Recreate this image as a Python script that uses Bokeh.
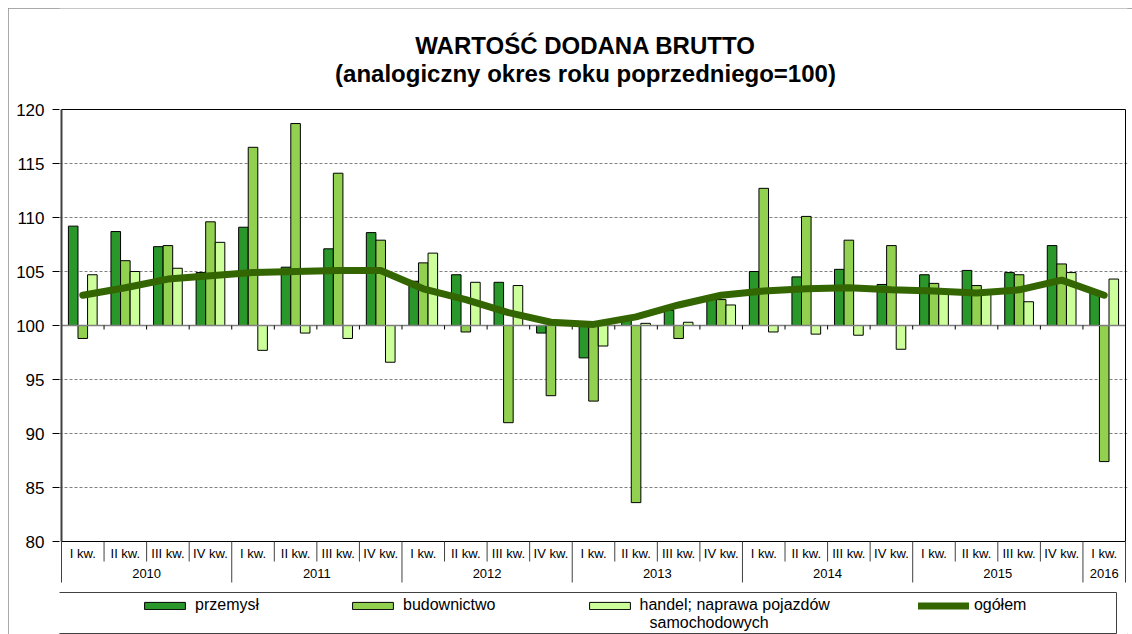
from bokeh.plotting import figure
from bokeh.models import Range1d, FixedTicker, Legend, LegendItem, ColumnDataSource
from bokeh.core.properties import value
from bokeh.embed import file_html
from bokeh.resources import INLINE

# ---------------- data ----------------
quarters = ["I kw.", "II kw.", "III kw.", "IV kw."] * 6 + ["I kw."]
years = ["2010", "2011", "2012", "2013", "2014", "2015", "2016"]
quarters_per_year = [4, 4, 4, 4, 4, 4, 1]

przemysl = [109.2, 108.7, 107.3, 104.9, 109.1, 105.4, 107.1, 108.6,
            104.1, 104.7, 104.0, 99.3, 97.0, 100.8, 101.4, 102.5,
            105.0, 104.5, 105.2, 103.8, 104.7, 105.1, 104.9, 107.4, 103.0]
budownictwo = [98.8, 106.0, 107.4, 109.6, 116.5, 118.7, 114.1, 107.9,
               105.8, 99.4, 91.0, 93.5, 93.0, 83.6, 98.8, 102.4,
               112.7, 110.1, 107.9, 107.4, 103.9, 103.7, 104.7, 105.7, 87.4]
handel = [104.7, 105.0, 105.3, 107.7, 97.7, 99.3, 98.8, 96.6,
          106.7, 104.0, 103.7, 100.1, 98.1, 100.2, 100.3, 101.9,
          99.4, 99.2, 99.1, 97.8, 103.2, 103.1, 102.2, 104.9, 104.3]
ogolem = [102.8, 103.5, 104.3, 104.6, 104.9, 105.0, 105.1, 105.1,
          103.4, 102.4, 101.2, 100.3, 100.1, 100.8, 101.9, 102.8,
          103.2, 103.4, 103.5, 103.3, 103.2, 103.0, 103.3, 104.2, 102.8]

series_names = ["przemysł", "budownictwo", "handel; naprawa pojazdów", "ogółem"]
series_name_line2 = "samochodowych"
title_lines = ["WARTOŚĆ DODANA BRUTTO", "(analogiczny okres roku poprzedniego=100)"]

y_ticks = [80, 85, 90, 95, 100, 105, 110, 115, 120]
grid_ticks = [85, 90, 95, 105, 110, 115]
base = 100
y_min, y_max = 80, 120

# ---------------- layout ----------------
FONT = "Liberation Sans"
n = len(quarters)
PX_X = 42.56   # px per category
PX_Y = 10.8    # px per unit
W, H = 1124, 626
x0 = -0.5 - 2 / PX_X
x1 = n - 0.5 + 2 / PX_X
y1 = y_max + 101 / PX_Y          # frame reaches the top of the canvas
y0 = y1 - H / PX_Y

p = figure(width=W, height=H, x_range=Range1d(x0, x1), y_range=Range1d(y0, y1),
           x_axis_type=None, output_backend="svg", toolbar_location=None,
           min_border_left=51, min_border_right=5, min_border_top=0,
           min_border_bottom=0, margin=(8, 0, 0, 8))
p.outline_line_color = None
p.styles = {"outline": "1px solid #8c8c8c", "outline-offset": "-1px"}

# y axis
p.yaxis.ticker = FixedTicker(ticks=y_ticks)
p.yaxis.axis_line_color = None
p.yaxis.major_tick_line_color = "black"
p.yaxis.major_tick_out = 7
p.yaxis.major_tick_in = 0
p.yaxis.minor_tick_line_color = None
p.yaxis.major_label_text_font = FONT
p.yaxis.major_label_text_font_size = "17px"
p.yaxis.major_label_text_color = "black"
p.yaxis.major_label_standoff = 8

p.ygrid.ticker = FixedTicker(ticks=grid_ticks)
p.ygrid.grid_line_color = "#808080"
p.ygrid.grid_line_dash = "3 2"
p.ygrid.grid_line_width = 1

# title (two centred lines)
title_cx = -0.5 + 524 / PX_X
p.text(x=[title_cx, title_cx], y=[y_max + 64 / PX_Y, y_max + 36 / PX_Y], text=title_lines,
       text_font=value(FONT), text_font_size="24px", text_font_style="bold",
       text_align="center", text_baseline="middle", text_color="black")

xs = list(range(n))
bw = 0.225
src = ColumnDataSource(dict(
    x=xs,
    xp=[x - bw for x in xs], xb=xs, xh=[x + bw for x in xs],
    przemysl=przemysl, budownictwo=budownictwo, handel=handel, ogolem=ogolem,
))

r1 = p.vbar(x="xp", top="przemysl", bottom=base, width=bw, source=src,
            fill_color="#299729", line_color="black", line_width=1)
r2 = p.vbar(x="xb", top="budownictwo", bottom=base, width=bw, source=src,
            fill_color="#92d050", line_color="black", line_width=1)
r3 = p.vbar(x="xh", top="handel", bottom=base, width=bw, source=src,
            fill_color="#ccff99", line_color="black", line_width=1)

# axis line at 100 with ticks at category boundaries
p.segment(x0=[-0.5], y0=[base], x1=[n - 0.5], y1=[base], line_color="#7f7f7f", line_width=1.5)
bnd = [k - 0.5 for k in range(1, n)]
p.segment(x0=bnd, y0=[base] * len(bnd), x1=bnd, y1=[base - 4 / PX_Y] * len(bnd),
          line_color="black", line_width=1)

r4 = p.line(x="x", y="ogolem", source=src, line_color="#336600", line_width=7,
            line_cap="round", line_join="round")

# frame lines
p.segment(x0=[-0.5], y0=[y_min], x1=[-0.5], y1=[y_max], line_color="#404040", line_width=2)
p.segment(x0=[-0.5, n - 0.5, -0.5], y0=[y_max, y_min, y_min],
          x1=[n - 0.5, n - 0.5, n - 0.5], y1=[y_max, y_max, y_min],
          line_color="black", line_width=1)

# category labels (quarters + years)
year_bnd = [-0.5]
for c in quarters_per_year:
    year_bnd.append(year_bnd[-1] + c)
q_sep = [b for b in bnd if b not in year_bnd]
p.segment(x0=q_sep, y0=[y_min] * len(q_sep), x1=q_sep, y1=[y_min - 20 / PX_Y] * len(q_sep),
          line_color="#404040", line_width=1)
p.segment(x0=year_bnd, y0=[y_min] * len(year_bnd), x1=year_bnd,
          y1=[y_min - 41 / PX_Y] * len(year_bnd), line_color="#404040", line_width=1)
p.text(x=xs, y=[y_min - 12 / PX_Y] * n, text=quarters, text_font=value(FONT),
       text_font_size="13px", text_align="center", text_baseline="middle", text_color="black")
year_cx = [(year_bnd[i] + year_bnd[i + 1]) / 2 for i in range(len(years))]
p.text(x=year_cx, y=[y_min - 32 / PX_Y] * len(years), text=years, text_font=value(FONT),
       text_font_size="13px", text_align="center", text_baseline="middle", text_color="black")

# legend box
p.quad(left=[-0.5 - 8 / PX_X], right=[-0.5 + 1055 / PX_X],
       top=[y_min - 51 / PX_Y], bottom=[y_min - 92 / PX_Y],
       fill_color=None, line_color="#404040", line_width=1)

legend = Legend(items=[
    LegendItem(label=series_names[0], renderers=[r1]),
    LegendItem(label=series_names[1], renderers=[r2]),
    LegendItem(label=series_names[2], renderers=[r3]),
    LegendItem(label=series_names[3], renderers=[r4]),
], orientation="horizontal", location=(80, 20), glyph_width=51, glyph_height=9,
    label_standoff=5, spacing=88, padding=2, border_line_color=None,
    background_fill_alpha=0, label_text_font=FONT, label_text_font_size="16px",
    label_text_color="black")
p.add_layout(legend, "center")

# second line of the third legend label
p.text(x=[-0.5 + 588 / PX_X], y=[y_min - 81 / PX_Y], text=[series_name_line2],
       text_font=value(FONT), text_font_size="16px", text_align="left",
       text_baseline="middle", text_color="black")

open("out.html", "w").write(file_html(p, INLINE))
